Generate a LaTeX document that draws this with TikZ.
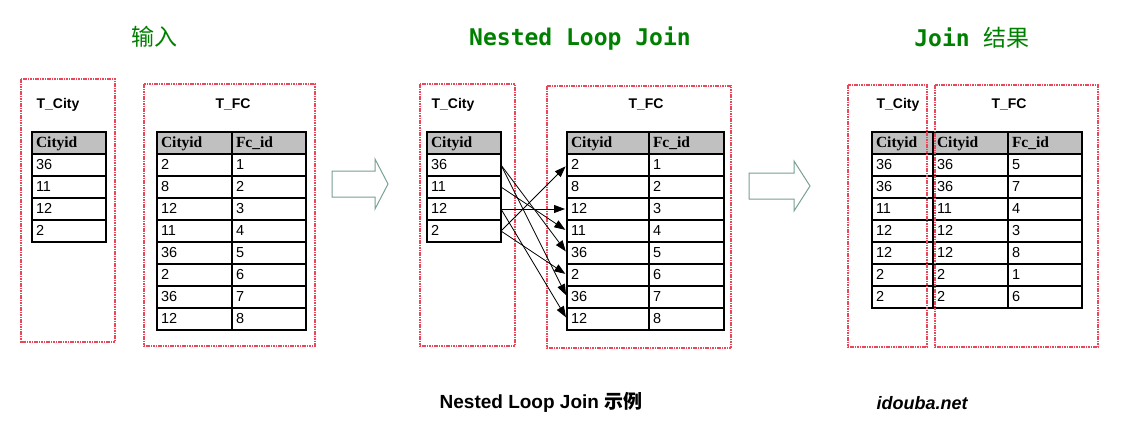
\documentclass[tikz,border=0pt]{standalone}
\usepackage{fontspec}
\setmainfont{Liberation Sans}
\newfontfamily\cjk{Noto Sans CJK SC}
\newfontfamily\monofont{DejaVu Sans Mono}
\newfontfamily\tabfont{Liberation Serif}
\usetikzlibrary{arrows.meta}
\definecolor{titlegreen}{RGB}{0,128,0}
\definecolor{boxred}{RGB}{236,70,90}
\definecolor{arrowgrey}{RGB}{120,160,150}
\definecolor{headgrey}{RGB}{192,192,192}

\begin{document}
\begin{tikzpicture}[x=1pt, y=-1pt,
  cell/.style={draw=black, line width=2pt, anchor=north west, outer sep=0pt,
               text width=#1, inner xsep=4pt, inner ysep=0pt, minimum height=22pt,
               align=left, text height=11pt, text depth=3pt,
               font=\fontsize{14.5}{16}\selectfont},
  hcell/.style={cell=#1, fill=headgrey, font=\tabfont\bfseries\fontsize{15.5}{17}\selectfont},
  tframe/.style={draw=boxred, line width=1.4pt, dash pattern=on 1.6pt off 0.8pt},
  tname/.style={anchor=base, font=\bfseries\fontsize{14}{16}\selectfont},
  ttitle/.style={anchor=base, text=titlegreen, font=\fontsize{23}{26}\selectfont},
  tcaption/.style={anchor=base, font=\bfseries\fontsize{19}{22}\selectfont},
  bigarrow/.style={draw=arrowgrey, line width=1pt, fill=white},
  match/.style={-{Triangle[length=11pt, width=8pt]}, line width=0.8pt, shorten >=2pt},
]
  \useasboundingbox (0,0) rectangle (1130,428);

  % headings
  \node[ttitle] (tin) at (154,46) {\cjk 输入};
  \node[ttitle] (tnlj) at (580,46) {\monofont\bfseries Nested Loop Join};
  \node[ttitle] (tres) at (972,47) {\monofont\bfseries Join {\cjk\mdseries 结果}};

  % input: T_City and T_FC
  \node[tname] (lcname) at (58,108) {T\_City};
  \node[hcell=66pt] (lch) at (32,132) {Cityid};
  \foreach \v [count=\i] in {36,11,12,2}
    \node[cell=66pt] (lc\i) at (32,{132+22*\i}) {\v};
  \node[tname] (lfname) at (233,108) {T\_FC};
  \node[hcell=67pt] (lfh) at (157,132) {Cityid};
  \node[hcell=66pt] (lgh) at (232,132) {Fc\_id};
  \foreach \a/\b [count=\i] in {2/1,8/2,12/3,11/4,36/5,2/6,36/7,12/8} {
    \node[cell=67pt] (lf\i) at (157,{132+22*\i}) {\a};
    \node[cell=66pt] (lg\i) at (232,{132+22*\i}) {\b};
  }
  \draw[tframe] (21,79) rectangle (115,342);
  \draw[tframe] (144,84) rectangle (315,346);

  % block arrows between panels
  \foreach \x/\y/\b/\h in {332/171/43/13, 749/173/45/16}
    \draw[bigarrow] (\x,\y) -- ++(\b,0) -- ++(0,-12) -- ++(\h,25)
      -- ++(-\h,25) -- ++(0,-12) -- ++(-\b,0) -- cycle;

  % nested loop join
  \node[tname] (mcname) at (453,108) {T\_City};
  \node[hcell=66pt] (mch) at (427,132) {Cityid};
  \foreach \v [count=\i] in {36,11,12,2}
    \node[cell=66pt] (mc\i) at (427,{132+22*\i}) {\v};
  \node[tname] (mfname) at (646,108) {T\_FC};
  \node[hcell=74pt] (mfh) at (567,132) {Cityid};
  \node[hcell=67pt] (mgh) at (649,132) {Fc\_id};
  \foreach \a/\b [count=\i] in {2/1,8/2,12/3,11/4,36/5,2/6,36/7,12/8} {
    \node[cell=74pt] (mf\i) at (567,{132+22*\i}) {\a};
    \node[cell=67pt] (mg\i) at (649,{132+22*\i}) {\b};
  }
  \draw[tframe] (420,84) rectangle (515,346);
  \draw[tframe] (547,86) rectangle (731,348);
  \foreach \s/\t in {1/5,1/7,2/4,3/3,3/8,4/1,4/6}
    \draw[match] (mc\s.east) -- (mf\t.west);

  % join result
  \node[tname] (rcname) at (898,108) {T\_City};
  \node[tname] (rfname) at (1009,108) {T\_FC};
  \node[hcell=53pt] (rch) at (872,132) {Cityid};
  \node[hcell=67pt] (rfh) at (933,132) {Cityid};
  \node[hcell=66pt] (rgh) at (1008,132) {Fc\_id};
  \foreach \a/\b [count=\i] in {36/5,36/7,11/4,12/3,12/8,2/1,2/6} {
    \node[cell=53pt] (rc\i) at (872,{132+22*\i}) {\a};
    \node[cell=67pt] (rf\i) at (933,{132+22*\i}) {\a};
    \node[cell=66pt] (rg\i) at (1008,{132+22*\i}) {\b};
  }
  \draw[tframe] (848,85) rectangle (927,347);
  \draw[tframe] (935,85) rectangle (1098,347);

  % captions
  \node[tcaption] (cap) at (541,408) {Nested Loop Join {\cjk 示例}};
  \node[tcaption, font=\bfseries\itshape\fontsize{18}{20}\selectfont] (site)
    at (922,409) {idouba.net};
\end{tikzpicture}
\end{document}
